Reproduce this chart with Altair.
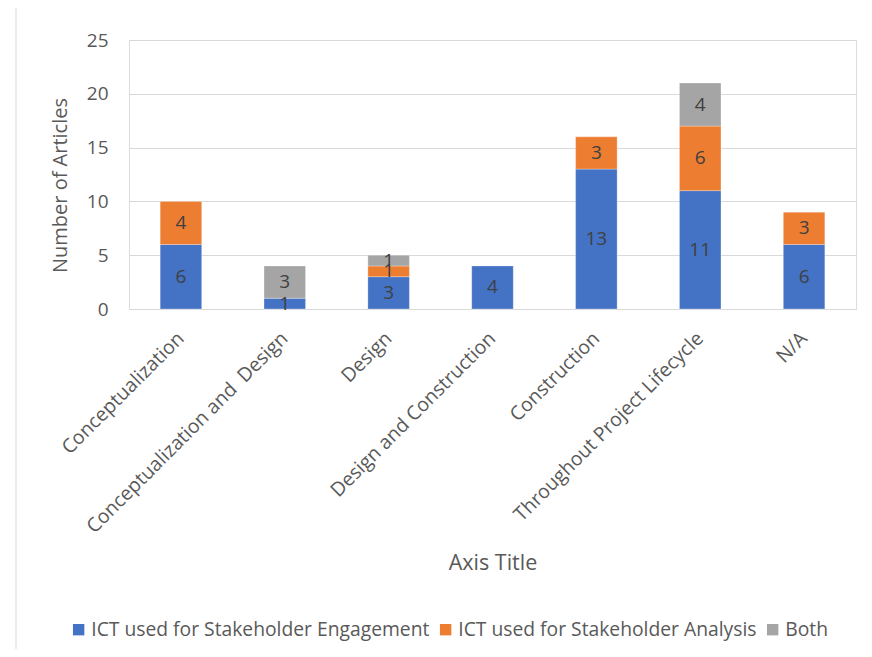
import altair as alt
import pandas as pd

categories = ["Conceptualization", "Conceptualization and\u00a0 Design", "Design",
              "Design and Construction", "Construction",
              "Throughout Project Lifecycle", "N/A"]
series = ["ICT used for Stakeholder Engagement", "ICT used for Stakeholder Analysis", "Both"]
engagement = [6, 1, 3, 4, 13, 11, 6]
analysis = [4, 0, 1, 0, 3, 6, 3]
both = [0, 3, 1, 0, 0, 4, 0]
colors = ["#4472C4", "#ED7D31", "#A5A5A5"]

rows = []
for i, c in enumerate(categories):
    for s_i, (s, vals) in enumerate(zip(series, [engagement, analysis, both])):
        if vals[i] > 0:
            rows.append({"category": c, "series": s, "order": s_i, "value": vals[i]})
df = pd.DataFrame(rows)

FONT = "Open Sans"
TXT = "#595959"

base = alt.Chart(df).transform_stack(
    stack="value", groupby=["category"], as_=["v0", "v1"],
    sort=[alt.SortField("order", order="ascending")]
).transform_calculate(mid="(datum.v0 + datum.v1) / 2")

x_enc = alt.X("category:N", sort=categories,
              scale=alt.Scale(paddingInner=0.6, paddingOuter=0.3),
              axis=alt.Axis(title="Axis Title", labelAngle=-45, labelAlign="right",
                            labelBaseline="middle", labelFontSize=19.5, labelColor=TXT,
                            labelPadding=26, ticks=False, domainColor="#D9D9D9",
                            titleFontSize=21.5, titleColor=TXT, titleFontWeight="normal",
                            titleY=254, titleBaseline="middle", labelFont=FONT, titleFont=FONT,
                            labelLimit=400))

bars = base.mark_bar(stroke="white", strokeWidth=0.5, strokeOpacity=0.6).encode(
    x=x_enc,
    y=alt.Y("v0:Q", scale=alt.Scale(domain=[0, 25], nice=False),
            axis=alt.Axis(title="Number of Articles", values=[0, 5, 10, 15, 20, 25],
                          grid=True, gridColor="#D9D9D9", domain=False,
                          ticks=False, labelPadding=21, labelFontSize=19,
                          labelColor=TXT, titleFontSize=20, titleColor=TXT,
                          titleFontWeight="normal", titlePadding=16, titleY=145,
                          labelFont=FONT, titleFont=FONT)),
    y2="v1:Q",
    color=alt.Color("series:N", sort=series,
                    scale=alt.Scale(domain=series, range=colors),
                    legend=alt.Legend(title=None, orient="none", direction="horizontal",
                                      legendX=-60, legendY=580, symbolType="square",
                                      symbolSize=130, symbolStrokeWidth=0,
                                      labelFontSize=19.3, labelColor=TXT,
                                      labelFont=FONT, columnPadding=6, labelOffset=3,
                                      labelLimit=400)),
)

labels = base.mark_text(fontSize=19, color="#404040", font=FONT, baseline="middle").encode(
    x=alt.X("category:N", sort=categories),
    y=alt.Y("mid:Q"),
    text=alt.Text("value:Q"),
)

border = alt.Chart(pd.DataFrame({"k": [0]})).mark_rule(color="#D9D9D9", strokeWidth=1).encode(
    x=alt.value(-113), y=alt.value(-40), y2=alt.value(620)
)

chart = alt.layer(bars, labels, border).properties(
    width=727, height=269,
    autosize=alt.AutoSizeParams(type="none"),
    padding={"left": 121, "top": 32, "right": 8, "bottom": 340},
).configure_view(stroke=None).configure(background="white")

chart.save("out.html", embed_options={"renderer": "svg", "actions": False})
